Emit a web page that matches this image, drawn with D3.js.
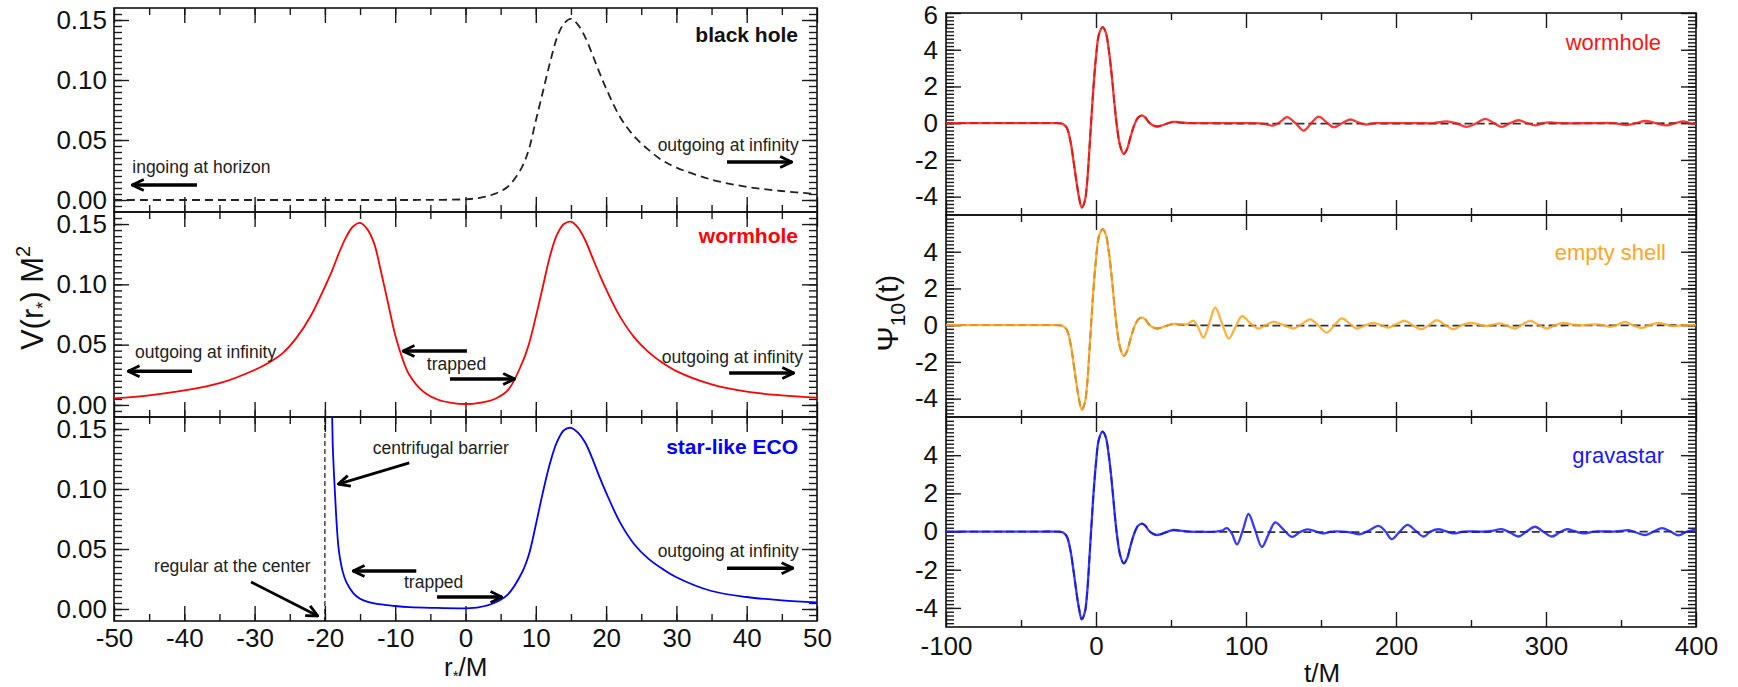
<!DOCTYPE html>
<html><head><meta charset="utf-8">
<script src="https://cdn.jsdelivr.net/npm/d3@7"></script>
<style>
body{margin:0;background:#fff;}
svg{display:block;}
</style></head><body>
<svg id="c" width="1738" height="687"></svg>
<script>
// ---------------- DATA ----------------
// Left column: effective potentials V(r*) M^2 versus r*/M
const leftXTicks = [-50,-40,-30,-20,-10,0,10,20,30,40,50];
const leftYTicks = [0, 0.05, 0.10, 0.15];

const bhR = [-50,-40,-30,-20,-10,-5,0,2,4,6,8,9,10,11,12,13,14,15,16,17,18,19,20,22,24,26,28,30,35,40,45,50];
const bhV = [0,0,0,0,0,0.0001,0.0006,0.0018,0.0048,0.011,0.027,0.042,0.066,0.09,0.114,0.135,0.147,0.151,0.146,0.136,0.122,0.107,0.093,0.069,0.053,0.042,0.033,0.027,0.017,0.011,0.0075,0.005];

const whR = [-50,-45,-40,-35,-30,-28,-26,-24,-22,-20,-19,-18,-17,-16,-15,-14,-13,-12,-11,-10,-9,-8,-6,-4,-2,0,2,4,6,8,9,10,11,12,13,14,15,16,17,18,19,20,22,24,26,28,30,35,40,45,50];
const whV = [0.0055,0.008,0.012,0.018,0.029,0.035,0.043,0.056,0.074,0.098,0.111,0.126,0.139,0.148,0.151,0.146,0.134,0.110,0.084,0.058,0.039,0.025,0.011,0.0045,0.0018,
             0.0008,0.0018,0.0045,0.012,0.034,0.05,0.073,0.098,0.123,0.141,0.150,0.152,0.147,0.137,0.123,0.109,0.096,0.073,0.056,0.044,0.035,0.028,0.017,0.011,0.008,0.006];

const ecoR = [-19.0,-18.9,-18.8,-18.6,-18.4,-18.2,-18,-17.5,-17,-16,-15,-14,-12,-10,-8,-5,0,2,4,6,8,9,10,11,12,13,14,15,16,17,18,19,20,22,24,26,28,30,35,40,45,50];
const ecoV = [0.175,0.14,0.124,0.10,0.078,0.06,0.048,0.032,0.023,0.0135,0.0085,0.0062,0.0038,0.0025,0.0016,0.001,0.0006,0.0016,0.0048,0.012,0.03,0.045,0.07,0.097,0.121,0.139,0.149,0.151,0.147,0.139,0.126,0.111,0.097,0.072,0.054,0.042,0.0335,0.0265,0.015,0.010,0.0072,0.0055];

// Right column: waveforms Psi_10(t) versus t/M
const rightXTicks = [-100,0,100,200,300,400];
const rightYTicksTop = [-4,-2,0,2,4,6];
const rightYTicks = [-4,-2,0,2,4];

// main burst, common to all three objects and to the black hole
const pulseT = [-100,-60,-40,-28,-24,-22,-19.5,-17,-15,-13,-11.5,-9.5,-7.5,-6,-4,-2,0,2,4.4,6.5,8.5,10.5,12.5,14,16,18.4,20.5,23,25.5,28,30.7,33,35,38,40.7,44,47];
const pulseV = [0,0,0,0,-0.01,-0.05,-0.25,-1.0,-2.05,-3.2,-3.95,-4.6,-4.25,-3.3,-0.9,1.6,3.6,4.85,5.23,4.95,4.0,2.6,0.9,-0.2,-1.2,-1.67,-1.45,-0.75,-0.1,0.3,0.42,0.3,0.07,-0.12,-0.18,-0.12,-0.03];

const bhTailT = [51,56,62,400];
const bhTailV = [0.06,0.03,0,0];

const whTailT = [51,55,60,70,90,105,112,118,122.5,127.3,133,138.4,143.5,148.4,153.5,158.4,164,169.5,174.5,179.5,186,200,215,225,233.8,240.5,247.2,253.5,259.5,265,270.6,276,281.7,287,292.8,298,303,310,330,345,354,360,366.2,373,380.6,386,391.7,396,400];
const whTailV = [0.07,0.06,0.01,0,0,0,-0.04,-0.13,0.05,0.33,0,-0.4,0,0.36,0.07,-0.22,0,0.2,0.05,-0.07,0,0,0,0,0.1,-0.02,-0.2,0,0.24,0.02,-0.2,0,0.16,0.02,-0.12,0,0.04,0,0,0,-0.1,0,0.12,0,-0.12,0,0.1,0,-0.05];

const esTailT = [51.6,57,61,64.9,68,71.6,75.5,79.5,84,88.4,93,97.3,103,108.4,113,118.4,125,131.7,137,142.8,148,153.8,159,163.8,169,173.8,179,184.9,190,194.9,200,206,211,217.1,222,227.1,233,238.2,244,249.3,255,260.5,265,269.4,274,279.4,284,289.4,295,300.5,306,311.6,317,322.7,328,333.8,338,342.7,348,352.7,358,363.8,369,374.9,380,384.9,392,400];
const esTailV = [0.06,0.05,0.06,0.24,-0.1,-0.68,0.1,0.97,0.1,-0.73,-0.1,0.49,0.1,-0.18,0,0.18,0,-0.18,0.05,0.32,0,-0.4,0,0.37,0.1,-0.18,-0.02,0.13,0,-0.13,0.05,0.24,0,-0.22,0,0.27,0,-0.22,0,0.13,0.04,-0.04,0.03,0.1,-0.03,-0.18,0.02,0.24,0.02,-0.18,0,0.13,0.05,-0.02,0.02,0.04,0,-0.09,0.03,0.18,0,-0.15,0,0.13,0.03,-0.05,0,0];

const gvTailT = [51.6,56,62,80,84,87.3,90.5,94,98,101.7,106,110.6,115,119.5,125,130.7,135.5,140.7,145.5,150.7,157,165,170,176.2,182,188.4,193,197.2,202.5,207.7,213,218.4,223,228.4,233,238.4,245,258,264,270.6,276,281.7,287,292.8,298,303.9,309,313.9,319,325,332,345,350,355,360,366.2,372,377.3,383,388.4,394,400];
const gvTailV = [0.09,0.05,0,0,0.05,0.18,-0.1,-0.67,0.1,0.92,0.1,-0.81,-0.15,0.48,0.1,-0.28,-0.05,0.11,0.03,-0.1,0,0,-0.05,-0.14,0.05,0.3,0,-0.4,0,0.35,0.05,-0.26,0,0.12,0.02,-0.1,0,0,0.04,0.12,-0.05,-0.26,0,0.25,0,-0.26,-0.05,0.12,0.02,-0.1,0,0,0.03,0.07,-0.05,-0.18,0,0.18,0,-0.2,0,0.12];

// ---------------- DRAWING ----------------
const FONT = '"Liberation Sans", Arial, Helvetica, sans-serif';
const svg = d3.select("#c").attr("font-family", FONT);
const defs = svg.append("defs");
defs.append("marker").attr("id","ah").attr("viewBox","0 0 14 14")
  .attr("refX",13).attr("refY",7).attr("markerWidth",14).attr("markerHeight",14)
  .attr("markerUnits","userSpaceOnUse").attr("orient","auto")
  .append("path").attr("d","M1.5,1.5 L13,7 L1.5,12.5").attr("fill","none")
  .attr("stroke","#000").attr("stroke-width",2.8).attr("stroke-linejoin","miter");

const intFmt = d => String(d);          // plain hyphen-minus, as in the figure
const decFmt = d => d.toFixed(2);

const xL = d3.scaleLinear().domain([-50,50]).range([114,817]);
const xR = d3.scaleLinear().domain([-100,400]).range([946,1696]);
const leftBoxes = [[8,212],[212,417],[417,621]];
const rightBoxes = [[13,215],[215,417],[417,627]];
const yLs = leftBoxes.map(([t,b]) => d3.scaleLinear().domain([-0.01,0.16]).range([b,t]));
const yRs = rightBoxes.map(([t,b]) => d3.scaleLinear().domain([-5,6]).range([b,t]));

function ticks(g, axisFn, scale, values, size, transform, fmt, pad) {
  const a = axisFn(scale).tickValues(values).tickSizeInner(-size).tickSizeOuter(0)
    .tickPadding(pad || 8).tickFormat(fmt || (() => ""));
  const s = g.append("g").attr("transform", transform).call(a);
  s.select(".domain").remove();
  s.selectAll(".tick line").attr("stroke","#1a1a1a").attr("stroke-width",1.4);
  s.selectAll(".tick text").attr("font-family",FONT).attr("font-size",26).attr("fill","#111");
  return s;
}

function frame(x, y, opt) {
  const g = svg.append("g");
  const [x0,x1] = x.range(); const [yb,yt] = y.range();
  ticks(g, d3.axisBottom, x, opt.xMinor, 7, `translate(0,${yb})`);
  ticks(g, d3.axisTop, x, opt.xMinor, 7, `translate(0,${yt})`);
  ticks(g, d3.axisBottom, x, opt.xMajor, 15, `translate(0,${yb})`, opt.xLabels ? intFmt : null, opt.xPad);
  ticks(g, d3.axisTop, x, opt.xMajor, 15, `translate(0,${yt})`);
  ticks(g, d3.axisLeft, y, opt.yMinor, 8, `translate(${x0},0)`);
  ticks(g, d3.axisRight, y, opt.yMinor, 8, `translate(${x1},0)`);
  const yl = ticks(g, d3.axisLeft, y, opt.yMajor, 15, `translate(${x0},0)`, opt.yFmt, opt.yPad);
  ticks(g, d3.axisRight, y, opt.yMajor, 15, `translate(${x1},0)`);
  g.append("rect").attr("x",x0).attr("y",yt).attr("width",x1-x0).attr("height",yb-yt)
    .attr("fill","none").attr("stroke","#111").attr("stroke-width",1.6);
  return yl;
}

function clip(id, x, y) {
  const [x0,x1] = x.range(); const [yb,yt] = y.range();
  defs.append("clipPath").attr("id",id).append("rect")
    .attr("x",x0).attr("y",yt).attr("width",x1-x0).attr("height",yb-yt);
  return `url(#${id})`;
}

// ---- left column ----
const lMinorX = d3.range(-9,10).map(i => i*5);
const lMinorY = d3.range(-1,32).map(i => i*0.005);
yLs.forEach((y,i) => {
  frame(xL, y, {xMinor:lMinorX, xMajor:leftXTicks, xLabels: i===2, xPad:7.5,
    yMinor:lMinorY, yMajor:leftYTicks, yFmt:decFmt, yPad:7});
});

const lineL = (y) => d3.line().x(d => xL(d[0])).y(d => y(d[1])).curve(d3.curveCatmullRom.alpha(0.5));

svg.append("path").datum(d3.zip(bhR,bhV)).attr("clip-path",clip("cl0",xL,yLs[0]))
  .attr("d",lineL(yLs[0])).attr("fill","none").attr("stroke","#222").attr("stroke-width",1.8)
  .attr("stroke-dasharray","8,5");
svg.append("path").datum(d3.zip(whR,whV)).attr("clip-path",clip("cl1",xL,yLs[1]))
  .attr("d",lineL(yLs[1])).attr("fill","none").attr("stroke","#ff0000").attr("stroke-width",1.8);
svg.append("line").attr("x1",xL(-20)).attr("x2",xL(-20)).attr("y1",yLs[2].range()[1]).attr("y2",yLs[2].range()[0])
  .attr("stroke","#000").attr("stroke-width",1.1).attr("stroke-dasharray","5,3");
svg.append("path").datum(d3.zip(ecoR,ecoV)).attr("clip-path",clip("cl2",xL,yLs[2]))
  .attr("d",lineL(yLs[2])).attr("fill","none").attr("stroke","#0000ff").attr("stroke-width",1.8);

// ---- right column ----
const rMinorX = [-50,50,150,250,350];
const rMinorY = d3.range(-24,30).map(i => +(i*0.2).toFixed(1));
yRs.forEach((y,i) => {
  const yl = frame(xR, y, {xMinor:rMinorX, xMajor:rightXTicks, xLabels: i===2, xPad:9.5,
    yMinor:rMinorY, yMajor: i===0 ? rightYTicksTop : rightYTicks, yFmt:intFmt, yPad:8});
  // the top "6" label sits at the very top edge; nudge it to stay inside the page
  yl.selectAll(".tick text").filter(d => d === 6).attr("dy","0.42em");
});

const lineR = (y) => d3.line().x(d => xR(d[0])).y(d => y(d[1])).curve(d3.curveCatmullRom.alpha(0.5));
const pulse = d3.zip(pulseT, pulseV);
const bhWave = pulse.concat(d3.zip(bhTailT, bhTailV));
const waves = [
  {tail: d3.zip(whTailT, whTailV), color:"#ff1414"},
  {tail: d3.zip(esTailT, esTailV), color:"#ffa51f"},
  {tail: d3.zip(gvTailT, gvTailV), color:"#1717ff"}
];
waves.forEach((w,i) => {
  const y = yRs[i];
  const cp = clip("cr"+i, xR, y);
  svg.append("path").datum(bhWave).attr("clip-path",cp).attr("d",lineR(y))
    .attr("fill","none").attr("stroke","#333").attr("stroke-width",1.8).attr("stroke-dasharray","8,4");
  svg.append("path").datum(pulse.concat(w.tail)).attr("clip-path",cp).attr("d",lineR(y))
    .attr("fill","none").attr("stroke",w.color).attr("stroke-width",2.3).attr("stroke-opacity",0.85);
});

// ---- texts ----
function txt(x, y, s, o) {
  o = o || {};
  return svg.append("text").attr("x",x).attr("y",y).text(s)
    .attr("text-anchor",o.anchor || "start").attr("font-size",o.size || 17.5)
    .attr("font-weight",o.weight || "normal").attr("fill",o.color || "#222");
}
function arrow(x1,y1,x2,y2,w) {
  svg.append("line").attr("x1",x1).attr("y1",y1).attr("x2",x2).attr("y2",y2)
    .attr("stroke","#000").attr("stroke-width",w || 3.6).attr("marker-end","url(#ah)");
}

// left panel titles
txt(xL(47.3), yLs[0](0.1317), "black hole", {anchor:"end", size:21, weight:"bold", color:"#111"});
txt(xL(47.3), yLs[1](0.134), "wormhole", {anchor:"end", size:21, weight:"bold", color:"#ff0000"});
txt(xL(47.3), yLs[2](0.129), "star-like ECO", {anchor:"end", size:21, weight:"bold", color:"#0000ff"});

// top-left annotations
txt(xL(-47.4), yLs[0](0.0225), "ingoing at horizon");
arrow(xL(-38.2), yLs[0](0.0125), xL(-47.4), yLs[0](0.0125));
txt(xL(47.4), yLs[0](0.0408), "outgoing at infinity", {anchor:"end"});
arrow(xL(37.2), yLs[0](0.0317), xL(46.4), yLs[0](0.0317));

// middle-left annotations
txt(xL(-47), yLs[1](0.039), "outgoing at infinity");
arrow(xL(-38.9), yLs[1](0.028), xL(-48), yLs[1](0.028));
arrow(xL(0.2), yLs[1](0.0447), xL(-8.9), yLs[1](0.0447));
txt(xL(-5.5), yLs[1](0.029), "trapped");
arrow(xL(-2.2), yLs[1](0.0215), xL(7.0), yLs[1](0.0215));
txt(xL(48), yLs[1](0.035), "outgoing at infinity", {anchor:"end"});
arrow(xL(37.5), yLs[1](0.0265), xL(46.7), yLs[1](0.0265));

// bottom-left annotations
txt(xL(-13.2), yLs[2](0.129), "centrifugal barrier");
arrow(xL(-8.0), yLs[2](0.1217), xL(-18.1), yLs[2](0.104), 2.8);
txt(xL(-44.3), yLs[2](0.0308), "regular at the center");
arrow(xL(-30.5), yLs[2](0.0225), xL(-21.0), yLs[2](-0.0058), 2.8);
arrow(xL(-7.0), yLs[2](0.0317), xL(-16.0), yLs[2](0.0317));
txt(xL(-8.75), yLs[2](0.0175), "trapped");
arrow(xL(-4.05), yLs[2](0.010), xL(5.2), yLs[2](0.010));
txt(xL(47.4), yLs[2](0.0433), "outgoing at infinity", {anchor:"end"});
arrow(xL(37.2), yLs[2](0.034), xL(46.6), yLs[2](0.034));

// right panel titles
txt(xR(376.7), yRs[0](3.98), "wormhole", {anchor:"end", size:22, color:"#ff1414"});
txt(xR(380), yRs[1](3.55), "empty shell", {anchor:"end", size:22, color:"#ffa51f"});
txt(xR(378.7), yRs[2](3.59), "gravastar", {anchor:"end", size:22, color:"#1717ff"});

// axis titles
const yl = svg.append("text").attr("transform","translate(43,298) rotate(-90)")
  .attr("text-anchor","middle").attr("font-size",31).attr("fill","#111");
yl.append("tspan").text("V(r");
yl.append("tspan").attr("font-size",18).attr("dy",6).text("*");
yl.append("tspan").attr("dy",-6).text(") M");
yl.append("tspan").attr("font-size",20).attr("dy",-13).text("2");

const xl = svg.append("text").attr("x",465.7).attr("y",676).attr("text-anchor","middle")
  .attr("font-size",26).attr("fill","#111");
xl.append("tspan").text("r");
xl.append("tspan").attr("font-size",15).attr("dy",5).text("*");
xl.append("tspan").attr("dy",-5).text("/M");

const yr = svg.append("text").attr("transform","translate(898,313) rotate(-90)")
  .attr("text-anchor","middle").attr("font-size",30).attr("fill","#111");
yr.append("tspan").text("Ψ");
yr.append("tspan").attr("font-size",21).attr("dy",7).text("10");
yr.append("tspan").attr("dy",-7).text("(t)");

svg.append("text").attr("x",1322).attr("y",682).attr("text-anchor","middle")
  .attr("font-size",26).attr("fill","#111").text("t/M");
</script></body></html>
